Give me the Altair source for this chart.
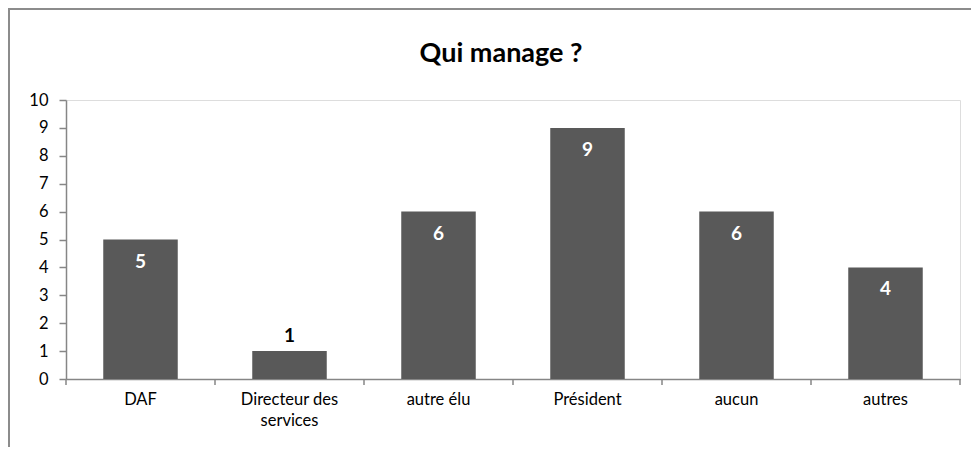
import altair as alt
import pandas as pd

categories = ["DAF", "Directeur des services", "autre élu", "Président", "aucun", "autres"]
values = [5, 1, 6, 9, 6, 4]
y_ticks = [0, 1, 2, 3, 4, 5, 6, 7, 8, 9, 10]
title_text = "Qui manage ?"

df = pd.DataFrame({"cat": categories, "val": values})

FONT = "Lato"
AXIS_GRAY = "#868686"
BAR = "#595959"
W, H = 894, 279

xsc = alt.Scale(domain=categories, paddingInner=0, paddingOuter=0)
ysc = alt.Scale(domain=[0, 10], nice=False)

x_axis = alt.Axis(ticks=False, domainColor=AXIS_GRAY, domainWidth=1.5,
                  labelAngle=0, labelFont=FONT, labelFontSize=16.5,
                  labelColor="black", labelPadding=12, labelLineHeight=21,
                  labelExpr="datum.label == 'Directeur des services' ? ['Directeur des', 'services'] : datum.label")
y_axis = alt.Axis(values=y_ticks, grid=False, domainColor=AXIS_GRAY, domainWidth=1.5,
                  tickColor=AXIS_GRAY, tickWidth=1.5, tickSize=7,
                  labelFont=FONT, labelFontSize=16.5, labelColor="black",
                  labelOverlap=False, labelPadding=11)

base = alt.Chart(df)

bars = base.mark_bar(color=BAR, width=alt.RelativeBandSize(0.5)).encode(
    x=alt.X("cat:N", scale=xsc, sort=categories, title=None, axis=x_axis),
    y=alt.Y("val:Q", scale=ysc, title=None, axis=y_axis),
)

ticks_left = base.mark_rule(color=AXIS_GRAY, strokeWidth=1.5).encode(
    x=alt.X("cat:N", scale=xsc, sort=categories, bandPosition=0, title=None, axis=x_axis),
    y=alt.value(H),
    y2=alt.value(H + 6),
)
ticks_right = base.transform_filter(
    alt.datum.cat == categories[-1]
).mark_rule(color=AXIS_GRAY, strokeWidth=1.5).encode(
    x=alt.X("cat:N", scale=xsc, sort=categories, bandPosition=1, title=None, axis=x_axis),
    y=alt.value(H),
    y2=alt.value(H + 6),
)

labels_in = base.transform_filter(alt.datum.val >= 2).mark_text(
    color="white", font=FONT, fontSize=19, fontWeight="bold", baseline="middle", dy=22
).encode(
    x=alt.X("cat:N", scale=xsc, sort=categories, title=None, axis=x_axis),
    y=alt.Y("val:Q", scale=ysc, title=None, axis=y_axis),
    text="val:Q",
)
labels_out = base.transform_filter(alt.datum.val < 2).mark_text(
    color="black", font=FONT, fontSize=19, fontWeight="bold", baseline="bottom", dy=-5
).encode(
    x=alt.X("cat:N", scale=xsc, sort=categories, title=None, axis=x_axis),
    y=alt.Y("val:Q", scale=ysc, title=None, axis=y_axis),
    text="val:Q",
)

frame = alt.Chart(pd.DataFrame({"a": [0]})).mark_rect(
    fill=None, stroke="#8c8c8c", strokeWidth=2
).encode(
    x=alt.value(-57), x2=alt.value(W + 200),
    y=alt.value(-91), y2=alt.value(H + 200),
)

title = alt.Chart(pd.DataFrame({"t": [title_text]})).mark_text(
    font=FONT, fontSize=27, fontWeight="bold", color="black",
    align="center", baseline="alphabetic"
).encode(
    x=alt.value(435), y=alt.value(-38), text="t:N",
)

chart = alt.layer(frame, title, bars, ticks_left, ticks_right, labels_in, labels_out).properties(
    width=W, height=H,
    autosize=alt.AutoSizeParams(type="none"),
    padding={"left": 58, "top": 92, "right": 11, "bottom": 68},
).configure_view(stroke=None).configure(background="white")

chart.save("out.html", embed_options={"renderer": "svg", "actions": False})
